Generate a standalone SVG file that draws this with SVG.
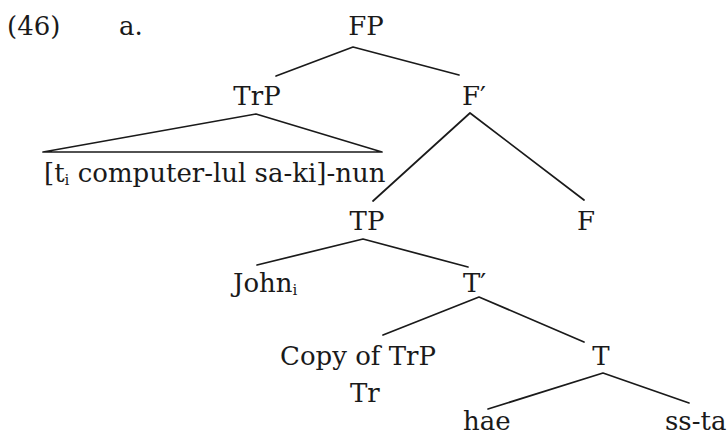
<svg xmlns="http://www.w3.org/2000/svg" width="728" height="436" viewBox="0 0 728 436">
  <style>
    .lbl { font-family: "DejaVu Serif", "Liberation Serif", serif; font-size: 26px; fill: #1a1a1a; }
    .mid { text-anchor: middle; }
    .sub { font-size: 15px; }
    .edge { stroke: #1a1a1a; stroke-width: 1.7; fill: none; stroke-linecap: round; stroke-linejoin: round; }
  </style>
  <rect width="728" height="436" fill="#ffffff"/>

  <!-- example number and sub-label -->
  <g id="example-label">
    <text class="lbl" x="7" y="35">(46)</text>
    <text class="lbl" x="119" y="35">a.</text>
  </g>

  <!-- tree edges -->
  <g id="connectors">
    <polyline class="edge" points="276,76 353,47 459,75"/>
    <polygon class="edge" points="256,114 43,152 382,152"/>
    <polyline class="edge" points="373,201 470,113 584,200"/>
    <polyline class="edge" points="257,265 363,239 468,267"/>
    <polyline class="edge" points="383,335 479,297 584,342"/>
    <polyline class="edge" points="488,409 603,373 689,403"/>
  </g>

  <!-- tree nodes -->
  <g id="node-FP"><text class="lbl mid" x="366" y="35">FP</text></g>
  <g id="node-TrP"><text class="lbl mid" x="257" y="105">TrP</text></g>
  <g id="node-Fbar"><text class="lbl" x="462" y="105">F′</text></g>
  <g id="node-TrP-content">
    <text class="lbl" x="44" y="182">[t<tspan class="sub" dy="3">i</tspan><tspan dy="-3"> computer-lul sa-ki]-nun</tspan></text>
  </g>
  <g id="node-TP"><text class="lbl mid" x="367" y="230">TP</text></g>
  <g id="node-F"><text class="lbl mid" x="586" y="230">F</text></g>
  <g id="node-John"><text class="lbl" x="233" y="292">John<tspan class="sub" dy="3">i</tspan></text></g>
  <g id="node-Tbar"><text class="lbl" x="463" y="292">T′</text></g>
  <g id="node-copy">
    <text class="lbl" x="280" y="365">Copy of TrP</text>
    <text class="lbl" x="350" y="402">Tr</text>
  </g>
  <g id="node-T"><text class="lbl mid" x="601" y="365">T</text></g>
  <g id="node-hae"><text class="lbl" x="463" y="430">hae</text></g>
  <g id="node-ssta"><text class="lbl" x="665" y="430">ss-ta</text></g>
</svg>
